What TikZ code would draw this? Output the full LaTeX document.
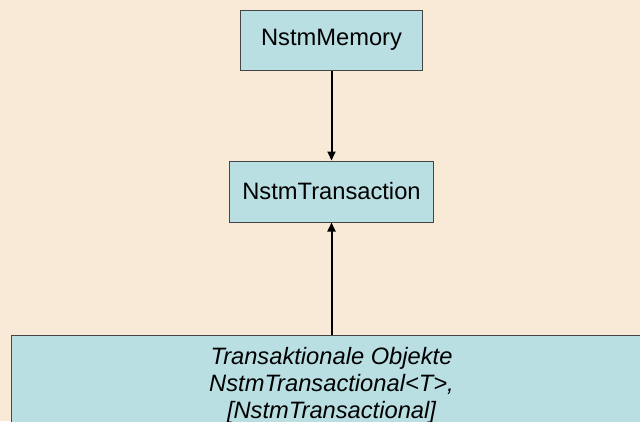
\documentclass[tikz,border=0pt]{standalone}
\usepackage{fontspec}
\setmainfont{Liberation Sans}
\usepackage{tikz}
\usetikzlibrary{positioning, arrows.meta}

\definecolor{bgbeige}{HTML}{F9E9D7}
\definecolor{boxfill}{HTML}{B9DFE2}
\definecolor{boxline}{HTML}{454545}

\tikzset{
  classbox/.style={rectangle, draw=boxline, fill=boxfill, line width=1pt,
                   font=\fontsize{23.7}{27.5}\selectfont, inner sep=0pt},
  usesarrow/.style={line width=2pt, -{Triangle[length=9pt, width=8pt]}}
}

\begin{document}
\begin{tikzpicture}[x=1pt, y=-1pt]
                    % Background
                    \useasboundingbox (0,0) rectangle (640,421);
                    \fill[bgbeige] (0,0) rectangle (640,421);

                    % Nodes
                    \node[classbox, minimum width=182pt, minimum height=60pt] (memory) at (331.5, 40) {NstmMemory};
                    \node[classbox, minimum width=204pt, minimum height=61pt] (transaction) at (331.5, 191.5) {NstmTransaction};
                    \node[classbox, anchor=north, minimum width=641pt, minimum height=100pt,
                          align=center, inner ysep=8pt, font=\fontsize{23.7}{27.2}\selectfont\itshape]
                          (objects) at (331.5, 335) {Transaktionale Objekte\\NstmTransactional<T>,\\{}[NstmTransactional]};

                    % Edges
                    % memory to transaction
                    \draw[usesarrow] (memory) -- (transaction);

                    % objects to transaction
                    \draw[usesarrow] (objects) -- (transaction);

                \end{tikzpicture}
\end{document}
